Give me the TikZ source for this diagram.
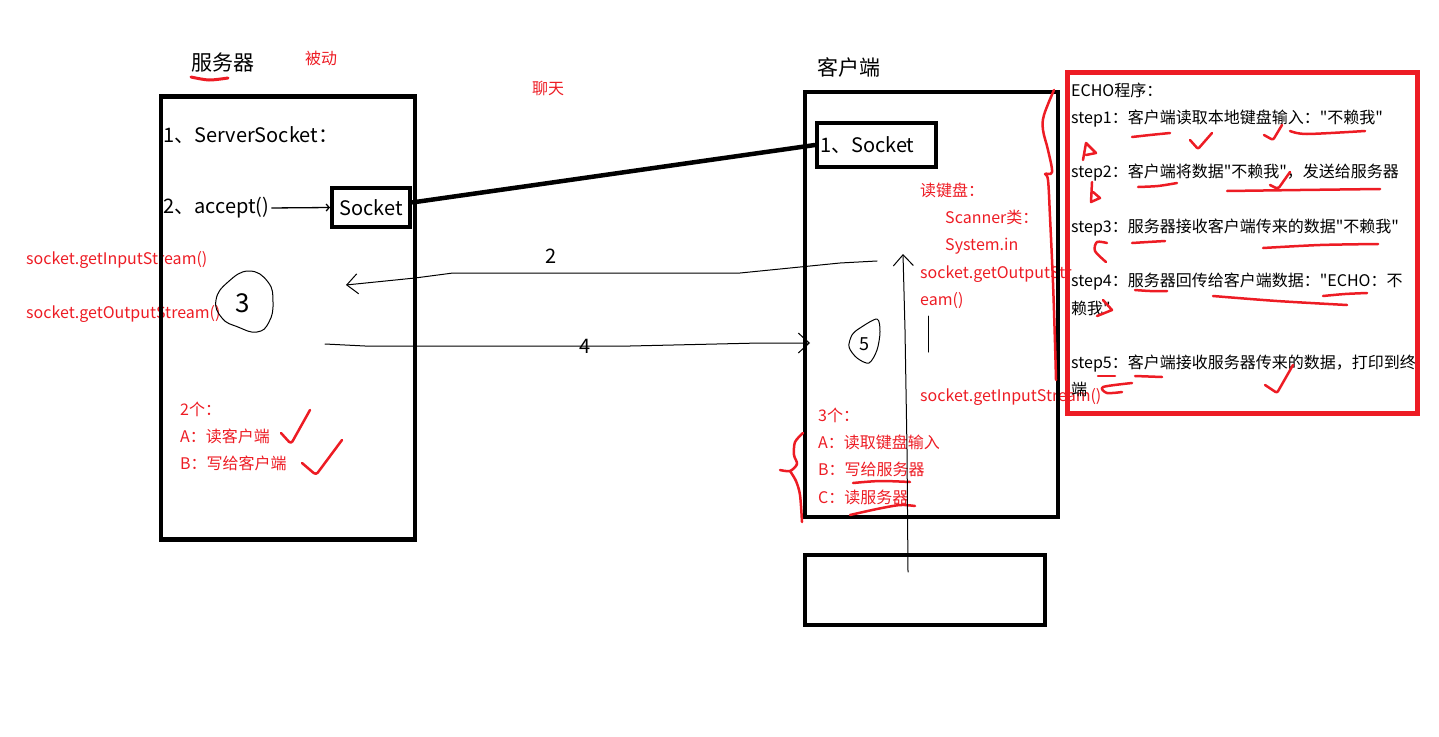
\documentclass[tikz,border=0pt]{standalone}
\usepackage{fontspec}
\setmainfont{Noto Sans CJK SC}[Ligatures=TeXOff]
\usetikzlibrary{arrows.meta,positioning}
\definecolor{pred}{HTML}{ED1C24}

\begin{document}
\begin{tikzpicture}[x=1pt,y=-1pt,
node distance=11pt and 0pt,
frame/.style={draw,line width=4.5pt,inner sep=0pt},
sockbox/.style={draw,line width=4pt,inner sep=0pt,font=\fontsize{20}{24}\selectfont},
big/.style={inner sep=0pt,anchor=west,font=\fontsize{20}{24}\selectfont},
note/.style={inner sep=0pt,anchor=west,text=pred,text height=13pt,text depth=3pt,
font=\fontsize{16}{20}\selectfont},
echo/.style={inner sep=0pt,anchor=west,text height=13pt,text depth=3pt,
font=\fontsize{16}{20}\selectfont},
digit/.style={inner sep=0pt,font=\fontsize{20}{24}\selectfont},
hand/.style={pred,line width=2.5pt,line cap=round,line join=round},
pen/.style={line width=1pt,line cap=round,line join=round},
arr/.style={pen,-{Straight Barb[length=11pt,width=20pt,line width=1pt]}}
]
\useasboundingbox (0,0) rectangle (1439,736);

% titles
\node[big,font=\fontsize{21}{24}\selectfont] (srvtitle) at (191,63) {服务器};
\node[note] (passive) at (305,59) {被动};
\node[note] (chat) at (532,89) {聊天};
\node[big,font=\fontsize{21}{24}\selectfont] (clititle) at (817,67) {客户端};
\draw[hand,line width=3pt] plot[smooth] coordinates {(191,77) (209,80) (228,78)};

% server side
\node[note] (gin) at (26,259) {socket.getInputStream()};
\node[note] (gout) at (26,313) {socket.getOutputStream()};
\node[big] (ss) at (163,135) {1、ServerSocket：};
\node[big] (acc) at (163,208) {2、accept()};
\node[note] (two) at (180,410) {2个：};
\node[note,below right=of two.south west] (sa) {A：读客户端};
\node[note,below right=of sa.south west] (sb) {B：写给客户端};
\node[frame,minimum width=254pt,minimum height=443pt] (srv) at (288,318) {};
\node[sockbox,minimum width=78pt,minimum height=39pt] (ssock) at (371,207.5) {Socket};
\draw[line width=1.3pt,shorten <=2pt,-{Straight Barb[length=3pt,width=7pt]}] (acc.east) -- (ssock.west);
\draw[hand,rounded corners=3pt] (281,433) -- (291,444) -- (310,410);
\draw[hand,rounded corners=3pt] (302,463) -- (316,475) -- (342,440);

% client side
\node[note] (kbd) at (920,191) {读键盘：};
\node[note,below right=11pt and 25pt of kbd.south west] (scan) {Scanner类：};
\node[note,below right=of scan.south west] (sysin) {System.in};
\node[note,below right=11pt and -25pt of sysin.south west] (gout2) {socket.getOutputStr};
\node[note,below right=of gout2.south west] (eam) {eam()};
\node[note] (gin2) at (920,396) {socket.getInputStream()};
\node[note] (three) at (818,416) {3个：};
\node[note,below right=of three.south west] (ca) {A：读取键盘输入};
\node[note,below right=of ca.south west] (cb) {B：写给服务器};
\node[note,below right=of cb.south west] (cc) {C：读服务器};
\node[frame,minimum width=253pt,minimum height=425pt] (cli) at (931.5,304.5) {};
\node[sockbox,text width=113pt,align=left,inner xsep=3pt,minimum height=44pt] (csock) at (876.5,145) {1、Socket};
\node[frame,minimum width=240pt,minimum height=70pt] (kbbox) at (925,590) {};
\draw[line width=4.5pt] ([yshift=5pt]ssock.east) -- (csock.west);
\draw[pen] (928,316) -- (928,352);
\draw[hand] plot[smooth] coordinates {(853,483) (880,481) (910,482)};
\draw[hand] plot[smooth] coordinates {(850,515) (877,509) (900,505) (915,506)};
\draw[hand] plot[smooth] coordinates {(803,433) (795,442) (794,455) (797,464) (790,471) (780,470)};
\draw[hand] plot[smooth] coordinates {(790,471) (796,481) (800,495) (802,522)};

% streams
\coordinate (a2s) at (877,261);
\coordinate (a2e) at (346,285);
\draw[arr] (a2s) -- (840,263) -- (740,273) -- node[digit,above=9pt,pos=0.66] (l2) {2} (453,273) -- (415,278) -- (a2e);
\coordinate (a4s) at (325,344);
\coordinate (a4e) at (810,343);
\draw[arr] (a4s) -- (365,346) -- node[digit,pos=0.83] (l4) {4} (630,346) -- (760,343) -- (a4e);
\coordinate (kb) at (908,572);
\coordinate (kbtip) at (903,254);
\draw[arr] (kb) -- (907,450) -- (905,330) -- (kbtip);
\node[digit,font=\fontsize{26}{28}\selectfont] (n3) at (243,303) {3};
\draw[pen] plot[smooth cycle,tension=0.8] coordinates {(249,271) (268,282) (273,302) (269,322) (257,332) (238,327) (222,318) (216,300) (228,282)};
\node[digit,font=\fontsize{18}{20}\selectfont] (n5) at (864,344) {5};
\draw[pen] plot[smooth cycle] coordinates {(877,319) (880,332) (877,350) (869,363) (857,358) (849,347) (852,335) (860,328)};

% echo steps
\node[echo] (e0) at (1071,91) {ECHO程序：};
\node[echo,below right=of e0.south west] (e1) {step1：客户端读取本地键盘输入："不赖我"};
\node[echo,below right=38pt and 0pt of e1.south west] (e2) {step2：客户端将数据"不赖我"，发送给服务器};
\node[echo,below right=38pt and 0pt of e2.south west] (e3) {step3：服务器接收客户端传来的数据"不赖我"};
\node[echo,below right=38pt and 0pt of e3.south west] (e4) {step4：服务器回传给客户端数据："ECHO：不};
\node[echo,below right=of e4.south west] (e4b) {赖我"};
\node[echo,below right=38pt and 0pt of e4b.south west] (e5) {step5：客户端接收服务器传来的数据，打印到终};
\node[echo,below right=of e5.south west] (e5b) {端};
\node[frame,draw=pred,line width=5pt,minimum width=350pt,minimum height=341pt] (echobox) at (1242,242.5) {};
\draw[hand] plot[smooth,tension=0.6] coordinates {(1054,90) (1044,115) (1043,130) (1048,150) (1052,172) (1045,174) (1048,180) (1050,217) (1053,283) (1055,343) (1056,380)};

% marks on steps
\draw[hand] plot[smooth] coordinates {(1132,137) (1150,135) (1170,133)};
\draw[hand,rounded corners=2pt] (1190,140) -- (1198,149) -- (1212,133);
\draw[hand,rounded corners=2pt] (1264,135) -- (1273,140) -- (1282,125);
\draw[hand] plot[smooth] coordinates {(1290,131) (1307,134) (1365,131)};
\draw[hand] (1083,160) -- (1086,143) -- (1096,153) -- (1086,155);
\draw[hand] plot[smooth] coordinates {(1138,187) (1158,186) (1177,183)};
\draw[hand] plot[smooth] coordinates {(1227,191) (1300,190) (1380,189)};
\draw[hand,rounded corners=2pt] (1270,185) -- (1278,189) -- (1290,172);
\draw[hand] (1092,182) -- (1091,202) -- (1100,198) -- (1093,192);
\draw[hand] plot[smooth] coordinates {(1132,243) (1148,242) (1165,241)};
\draw[hand] plot[smooth] coordinates {(1263,248) (1320,245) (1378,244)};
\draw[hand] plot[smooth] coordinates {(1107,243) (1097,242) (1095,251) (1106,262)};
\draw[hand] plot[smooth] coordinates {(1135,290) (1150,291) (1167,291)};
\draw[hand] plot[smooth] coordinates {(1213,296) (1277,301) (1347,305)};
\draw[hand] plot[smooth] coordinates {(1323,296) (1345,294) (1367,293)};
\draw[hand] (1103,300) -- (1112,310) -- (1097,316);
\draw[hand] (1098,376) -- (1115,376);
\draw[hand] (1135,376) -- (1162,377);
\draw[hand] plot[smooth] coordinates {(1132,383) (1103,387) (1107,393) (1122,392)};
\draw[hand,rounded corners=2pt] (1265,385) -- (1277,393) -- (1293,365);
\end{tikzpicture}
\end{document}
